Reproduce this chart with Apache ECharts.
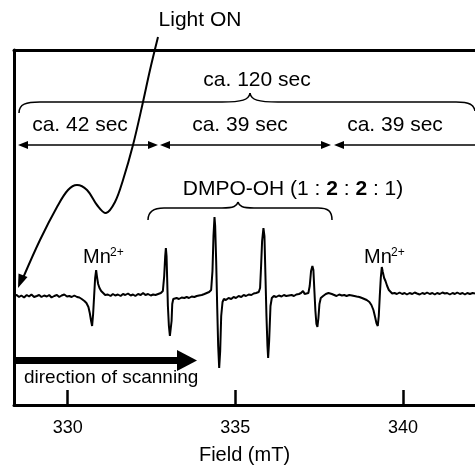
<!DOCTYPE html>
<html>
<head>
<meta charset="utf-8">
<script src="https://cdn.jsdelivr.net/npm/echarts@6/dist/echarts.min.js"></script>
<style>
html, body { margin: 0; padding: 0; background: #fff; }
#main { width: 475px; height: 466px; }
</style>
</head>
<body>
<div id="main"></div>
<script>
// EPR spectrum: [field (mT), signal (a.u.)]
var spectrum = [
    [328.40, 0], [328.48, 1], [328.55, -1], [328.62, 0.5], [328.70, -1.5], [328.78, 1], [328.85, -0.5],
    [328.92, 1.5], [329.00, -1], [329.08, 0], [329.15, 1], [329.22, -1], [329.30, 0.5], [329.38, -0.5],
    [329.45, 1], [329.52, -1.5], [329.60, 0], [329.68, 1], [329.75, -1], [329.82, 0.5], [329.90, 1.5],
    [329.98, -0.5], [330.05, 0], [330.12, -1], [330.20, 0.5], [330.28, -1], [330.35, -1.5], [330.42, -3],
    [330.50, -5], [330.56, -7], [330.62, -11], [330.66, -17], [330.70, -25], [330.73, -30], [330.76, -18],
    [330.79, 0], [330.82, 18], [330.85, 26], [330.88, 18], [330.91, 12], [330.95, 8], [331.00, 5],
    [331.05, 3], [331.12, 1], [331.20, 1.5], [331.28, 0], [331.35, 2], [331.42, 0.5], [331.50, 1.5],
    [331.58, 0], [331.65, 2], [331.72, 1], [331.80, 2.5], [331.88, 0.5], [331.95, 1.5], [332.02, 0],
    [332.10, 2], [332.18, 1], [332.25, 3], [332.32, 1], [332.40, 2], [332.48, 0.5], [332.55, 1.5],
    [332.62, 1], [332.70, 2], [332.78, 3], [332.84, 5], [332.88, 20], [332.91, 40], [332.93, 48],
    [332.95, 40], [332.97, 15], [332.99, -10], [333.02, -30], [333.05, -40], [333.08, -42], [333.10, -25],
    [333.12, -8], [333.15, -3], [333.20, -4], [333.25, -2], [333.32, -3], [333.40, -1.5], [333.48, -2],
    [333.55, -1], [333.62, -2], [333.70, -0.5], [333.78, -1], [333.85, 0], [333.92, 0.5], [334.00, 1],
    [334.08, 2], [334.15, 3], [334.22, 4], [334.28, 6], [334.32, 25], [334.35, 60], [334.38, 79],
    [334.40, 70], [334.43, 35], [334.46, -10], [334.49, -50], [334.52, -72], [334.55, -55], [334.58, -20],
    [334.62, -6], [334.66, -3], [334.72, -4], [334.80, -2], [334.88, -3], [334.95, -1], [335.02, -2],
    [335.10, 0], [335.18, -1], [335.25, 1], [335.32, 0], [335.40, 1.5], [335.48, 1], [335.55, 2.5],
    [335.62, 3], [335.70, 4], [335.74, 8], [335.77, 30], [335.80, 55], [335.84, 68], [335.87, 60],
    [335.90, 20], [335.93, -20], [335.96, -50], [335.98, -62], [336.01, -45], [336.05, -10], [336.09, -2],
    [336.15, 0], [336.22, -1], [336.30, 0.5], [336.38, -0.5], [336.45, 1], [336.52, 0], [336.60, 0.5],
    [336.68, 1], [336.75, 0], [336.82, 1.5], [336.90, 2], [336.96, 3], [337.02, 5], [337.07, 2],
    [337.12, 1], [337.18, 3], [337.22, 10], [337.26, 25], [337.30, 30], [337.33, 26], [337.36, 5],
    [337.39, -15], [337.42, -28], [337.45, -31], [337.48, -22], [337.51, -8], [337.55, -2], [337.62, 0],
    [337.70, 2], [337.78, 3], [337.82, 5], [337.88, 2], [337.95, 1], [338.02, 0], [338.10, 1.5],
    [338.18, 0.5], [338.25, 1], [338.32, 0], [338.40, 1], [338.48, 0.5], [338.55, 0], [338.62, -0.5],
    [338.70, -1], [338.78, -2], [338.85, -3], [338.92, -4], [339.00, -6], [339.06, -9], [339.12, -14],
    [339.17, -21], [339.21, -27], [339.25, -30], [339.28, -20], [339.31, 0], [339.34, 18], [339.37, 29],
    [339.40, 24], [339.44, 18], [339.48, 15], [339.53, 10], [339.58, 6], [339.63, 4], [339.68, 2.5],
    [339.75, 3], [339.82, 2], [339.90, 3.5], [339.98, 2], [340.05, 3], [340.12, 1.5], [340.20, 3],
    [340.28, 2], [340.35, 3.5], [340.42, 2.5], [340.50, 1.5], [340.58, 3], [340.65, 2], [340.72, 3.5],
    [340.80, 2], [340.88, 3], [340.95, 1.5], [341.02, 3], [341.10, 2], [341.18, 3.5], [341.25, 2.5],
    [341.32, 3], [341.40, 1.5], [341.48, 3], [341.55, 2], [341.62, 3.5], [341.70, 2], [341.78, 3],
    [341.85, 1.5], [341.92, 3], [342.00, 2], [342.08, 3], [342.15, 2.5]
];

var xTicks = [330, 335, 340];
var xName = 'Field (mT)';
var timeLabels = ['ca. 120 sec', 'ca. 42 sec', 'ca. 39 sec', 'ca. 39 sec'];

var FONT = '"Liberation Sans", Arial, Helvetica, sans-serif';

function txt(text, x, y, size, align) {
    return {
        type: 'text',
        z: 10,
        style: {
            text: text, x: x, y: y,
            font: size + 'px ' + FONT,
            fill: '#000',
            align: align || 'center', textAlign: align || 'center',
            verticalAlign: 'middle', textVerticalAlign: 'middle'
        }
    };
}
function seg(x1, y1, x2, y2, w) {
    return { type: 'line', z: 10, shape: { x1: x1, y1: y1, x2: x2, y2: y2 },
        style: { stroke: '#000', lineWidth: w || 1.5 } };
}
function curve(x1, y1, c1x, c1y, c2x, c2y, x2, y2) {
    return { type: 'bezierCurve', z: 10,
        shape: { x1: x1, y1: y1, cpx1: c1x, cpy1: c1y, cpx2: c2x, cpy2: c2y, x2: x2, y2: y2 },
        style: { stroke: '#000', lineWidth: 1.5, fill: null } };
}
function head(pts) {
    return { type: 'polygon', z: 10, shape: { points: pts }, style: { fill: '#000' } };
}

var graphics = [
    // Light ON curve with arrow
    { type: 'polyline', z: 10,
      shape: { smooth: 0.35, points: [[158, 37], [150, 70], [143, 102], [133, 145], [123, 180], [115, 202],
        [106, 213], [97, 205], [87, 190], [77, 185], [68, 190], [57, 207], [40, 240], [23, 278]] },
      style: { stroke: '#000', lineWidth: 2, fill: null } },
    head([[18, 288], [27.5, 277], [18.5, 273.5]]),
    txt('Light ON', 200, 20, 21),

    // 120 sec brace
    curve(19, 113, 19, 104, 26, 102, 40, 102),
    seg(40, 102, 222, 102),
    curve(222, 102, 242, 102, 249, 100, 250, 93),
    curve(250, 93, 251, 100, 258, 102, 278, 102),
    seg(278, 102, 456, 102),
    curve(456, 102, 470, 102, 474, 105, 475, 111),
    txt(timeLabels[0], 257, 80, 21),

    // time arrows
    txt(timeLabels[1], 80, 125, 21),
    txt(timeLabels[2], 240, 125, 21),
    txt(timeLabels[3], 395, 125, 21),
    seg(25, 145, 152, 145),
    head([[18, 145], [28, 141], [28, 149]]),
    head([[158, 145], [148, 141], [148, 149]]),
    seg(167, 145, 324, 145),
    head([[160, 145], [170, 141], [170, 149]]),
    head([[331, 145], [321, 141], [321, 149]]),
    seg(340, 145, 475, 145),
    head([[334, 145], [344, 141], [344, 149]]),

    // DMPO-OH brace
    curve(148, 220, 148, 211, 154, 208, 164, 208),
    seg(164, 208, 222, 208),
    curve(222, 208, 234, 208, 237, 206, 238, 202),
    curve(238, 202, 239, 206, 242, 208, 254, 208),
    seg(254, 208, 318, 208),
    curve(318, 208, 328, 208, 332, 211, 332, 220),
    { type: 'text', z: 10,
      style: {
          text: '{n|DMPO-OH (1 : }{b|2}{n| : }{b|2}{n| : 1)}',
          x: 293, y: 189,
          align: 'center', textAlign: 'center', verticalAlign: 'middle', textVerticalAlign: 'middle',
          rich: {
              n: { fontSize: 21, fontFamily: FONT, fill: '#000', color: '#000' },
              b: { fontSize: 21, fontFamily: FONT, fontWeight: 'bold', fill: '#000', color: '#000' }
          }
      } },

    // Mn2+ labels
    txt('Mn', 83, 257, 20, 'left'),
    txt('2+', 110, 253, 12, 'left'),
    txt('Mn', 364, 257, 20, 'left'),
    txt('2+', 391, 253, 12, 'left'),

    // direction of scanning
    { type: 'rect', z: 10, shape: { x: 14, y: 357, width: 166, height: 7 }, style: { fill: '#000' } },
    head([[177, 350], [197, 360.5], [177, 371]]),
    txt('direction of scanning', 24, 378, 19, 'left')
];

var chart = echarts.init(document.getElementById('main'));

chart.setOption({
    animation: false,
    backgroundColor: '#fff',
    grid: { left: 14, right: 0, top: 50, bottom: 61, outerBoundsMode: 'none', containLabel: false },
    xAxis: [
        {
            type: 'value',
            min: 328.4,
            max: 342.15,
            position: 'bottom',
            name: xName,
            nameLocation: 'middle',
            nameGap: 40,
            nameTextStyle: { fontSize: 20, fontFamily: FONT, color: '#000' },
            axisLine: { show: true, onZero: false, lineStyle: { color: '#000', width: 3 } },
            axisTick: { show: true, inside: true, length: 15, customValues: xTicks,
                lineStyle: { color: '#000', width: 2.5 } },
            axisLabel: { show: true, customValues: xTicks, margin: 14, fontSize: 18,
                fontFamily: FONT, color: '#000' },
            splitLine: { show: false }
        },
        {
            type: 'value',
            min: 328.4,
            max: 342.15,
            position: 'top',
            axisLine: { show: true, onZero: false, lineStyle: { color: '#000', width: 3 } },
            axisTick: { show: false },
            axisLabel: { show: false },
            splitLine: { show: false }
        }
    ],
    yAxis: {
        type: 'value',
        min: -109,
        max: 246,
        axisLine: { show: true, onZero: false, lineStyle: { color: '#000', width: 3 } },
        axisTick: { show: false },
        axisLabel: { show: false },
        splitLine: { show: false }
    },
    series: [
        {
            type: 'line',
            data: spectrum,
            showSymbol: false,
            symbol: 'none',
            lineStyle: { color: '#000', width: 2 },
            clip: false
        }
    ],
    graphic: graphics
});
</script>
</body>
</html>
